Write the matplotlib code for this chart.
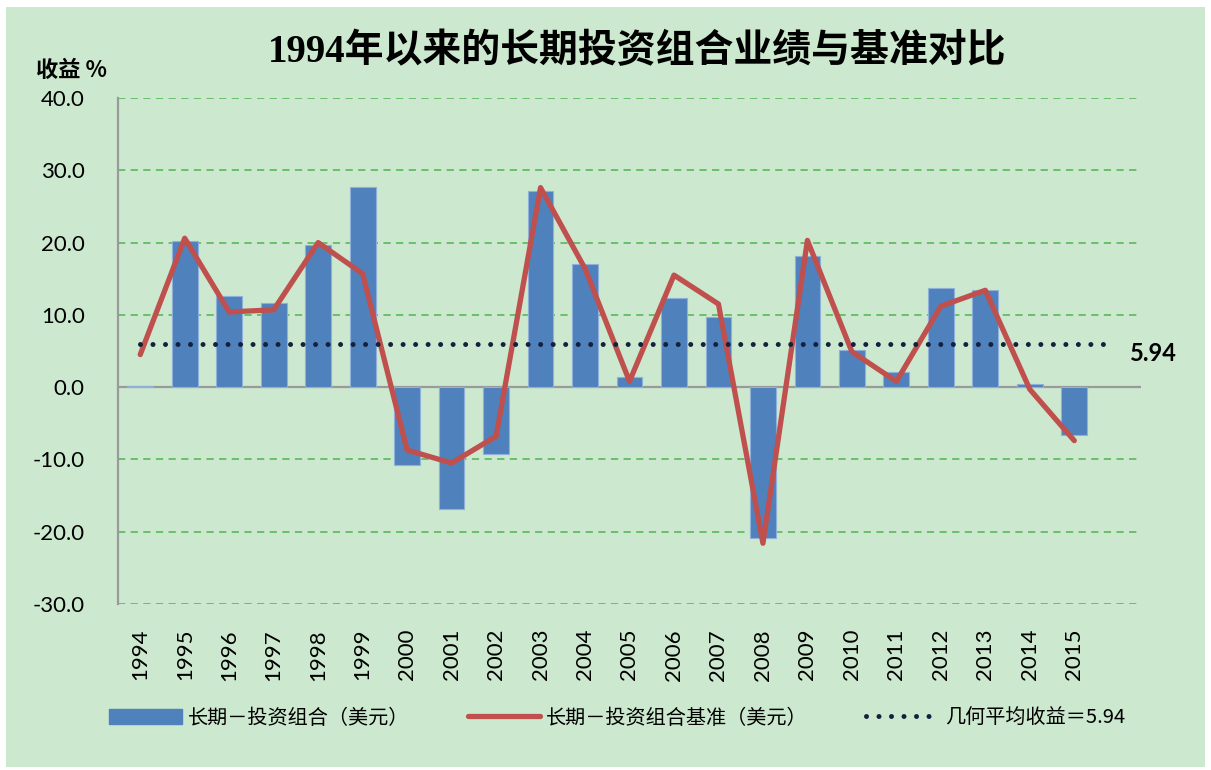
import matplotlib
matplotlib.use("Agg")
import matplotlib.pyplot as plt
import matplotlib.patches as mpatches
from matplotlib.lines import Line2D
import numpy as np

# data
years = [str(y) for y in range(1994, 2016)]
portfolio = [0.2, 20.2, 12.6, 11.6, 19.7, 27.7, -10.8, -16.8, -9.3, 27.2, 17.0,
             1.4, 12.4, 9.7, -20.9, 18.2, 5.2, 2.1, 13.7, 13.4, 0.5, -6.6]
benchmark = [4.5, 20.6, 10.4, 10.7, 20.0, 15.7, -8.7, -10.5, -6.8, 27.6, 16.4,
             0.8, 15.5, 11.5, -21.6, 20.3, 4.9, 0.8, 11.2, 13.4, -0.3, -7.4]
geo_mean = 5.94
y_ticks = [-30, -20, -10, 0, 10, 20, 30, 40]

bg = "#CCE8CF"
bar_color = "#4F81BD"
line_color = "#C0504D"
dot_color = "#14213D"
cjk = ["Noto Sans CJK SC", "DejaVu Sans"]
serif_cjk = ["Liberation Serif", "Noto Sans CJK SC"]

fig = plt.figure(figsize=(12.11, 7.7), dpi=100, facecolor="white")
W, H = 1211, 770
fig.patches.append(mpatches.Rectangle((6 / W, 3 / H), 1199 / W, 760 / H,
                                      transform=fig.transFigure,
                                      facecolor=bg, edgecolor="none", zorder=-10))

ax = fig.add_axes([118 / W, 1 - 604 / H, 1023 / W, 506 / H])
ax.set_facecolor("none")
ax.set_zorder(2)

x = np.arange(len(years))
ax.bar(x, portfolio, width=0.58, color=bar_color, edgecolor="#8FB0DA",
       linewidth=0.8, zorder=3)
ax.plot(x, benchmark, color=line_color, lw=3.8, solid_joinstyle="round",
        solid_capstyle="round", zorder=4)
ax.hlines(geo_mean, 0, 21.8, colors=dot_color, lw=3.6,
          linestyles=(0, (0.001, 2.5)), capstyle="round", zorder=5)
ax.text(22.25, geo_mean + 0.3, f"{geo_mean:.2f}", va="top", ha="left",
        fontsize=17, fontweight="bold", family="Lato", clip_on=False)

ax.set_xlim(-0.5, 22.5)
ax.set_ylim(-30, 40)
ax.set_yticks(y_ticks)
ax.set_yticklabels([f"{v:.1f}" for v in y_ticks], family="Lato", fontsize=16)
ax.set_xticks(x)
ax.set_xticklabels(years, rotation=90, family="Lato", fontsize=16)
ax.tick_params(axis="both", length=0)
ax.tick_params(axis="y", pad=24)
ax.tick_params(axis="x", pad=18)

for v in y_ticks:
    if v != 0:
        ax.axhline(v, color="#62BC62", lw=1.3, linestyle=(0, (4, 3)), zorder=1)
ax.axhline(0, color="#9A9A9A", lw=1.6, zorder=2)

for s in ["top", "right", "bottom"]:
    ax.spines[s].set_visible(False)
ax.spines["left"].set_color("#9A9A9A")
ax.spines["left"].set_linewidth(1.6)

fig.text(637 / W, 1 - 52 / H, "1994年以来的长期投资组合业绩与基准对比",
         ha="center", va="center", fontsize=28, fontweight="bold",
         family=serif_cjk)
fig.text(36 / W, 1 - 70 / H, "收益 %", ha="left", va="center",
         fontsize=16, fontweight="bold", family=cjk)

handles = [
    mpatches.Patch(color=bar_color),
    Line2D([0], [0], color=line_color, lw=3.8, solid_capstyle="round"),
    Line2D([0], [0], color=dot_color, lw=3.6, linestyle=(0, (0.001, 2.5)),
           dash_capstyle="round"),
]
labels = ["长期－投资组合（美元）", "长期－投资组合基准（美元）", "几何平均收益＝5.94"]
leg = fig.legend(handles, labels, loc="center", bbox_to_anchor=(617 / W, 1 - 718 / H),
                 ncol=3, frameon=False, handlelength=3.6, handleheight=0.8,
                 handletextpad=0.3, columnspacing=2.9,
                 prop={"family": cjk, "size": 14.5})

fig.savefig("out.png", dpi=100, facecolor="white")
